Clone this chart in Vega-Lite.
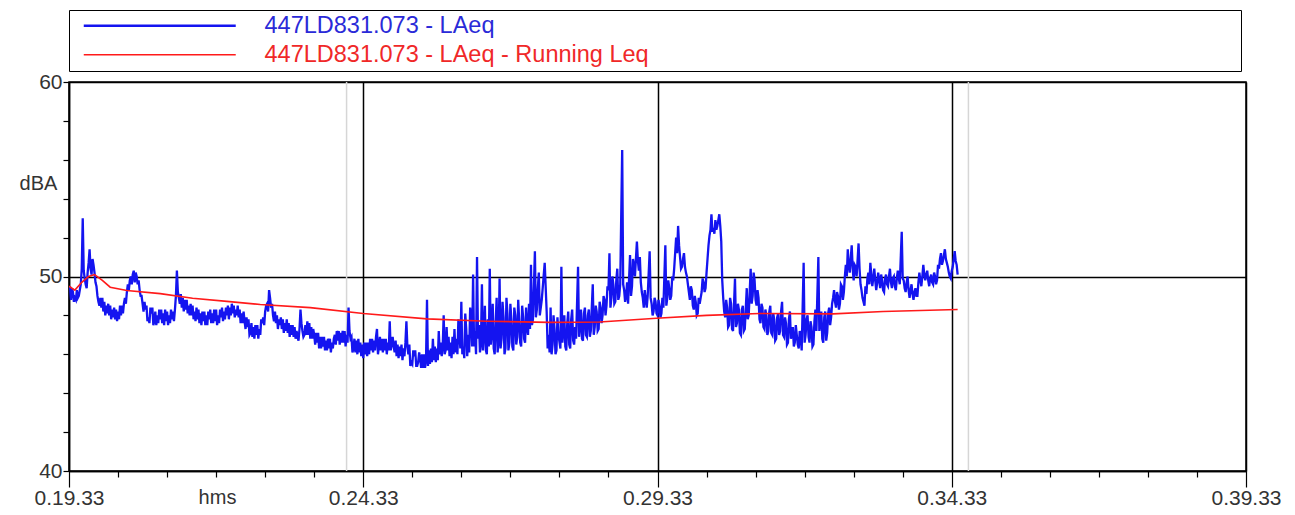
{
"$schema": "https://vega.github.io/schema/vega-lite/v6.json",
"width": 1177,
"height": 389,
"autosize": {"type": "none"},
"padding": {"left": 69, "top": 82, "right": 49, "bottom": 44},
"background": "white",
"config": {
  "view": {"stroke": "black", "strokeWidth": 1.5},
  "font": "Liberation Sans",
  "axis": {"labelFont": "Liberation Sans", "titleFont": "Liberation Sans"},
  "legend": {"labelFont": "Liberation Sans"}
},
"data": {"values": [
{"t":1456,"s":"cursor"},{"t":2090,"s":"cursor"},
{"t":1173,"v":49.3,"s":"LAeq"},{"t":1175,"v":48.8,"s":"LAeq"},{"t":1177,"v":49.2,"s":"LAeq"},{"t":1179,"v":48.9,"s":"LAeq"},{"t":1181,"v":49.3,"s":"LAeq"},{"t":1183,"v":49.0,"s":"LAeq"},{"t":1185,"v":49.6,"s":"LAeq"},{"t":1186,"v":50.4,"s":"LAeq"},{"t":1187,"v":53.0,"s":"LAeq"},{"t":1188,"v":50.3,"s":"LAeq"},{"t":1190,"v":49.6,"s":"LAeq"},{"t":1192,"v":50.2,"s":"LAeq"},{"t":1194,"v":51.4,"s":"LAeq"},{"t":1195,"v":50.4,"s":"LAeq"},{"t":1197,"v":50.9,"s":"LAeq"},{"t":1199,"v":50.2,"s":"LAeq"},{"t":1201,"v":49.5,"s":"LAeq"},{"t":1203,"v":48.7,"s":"LAeq"},{"t":1205,"v":48.9,"s":"LAeq"},{"t":1208,"v":48.2,"s":"LAeq"},{"t":1211,"v":48.5,"s":"LAeq"},{"t":1214,"v":48.0,"s":"LAeq"},{"t":1217,"v":48.3,"s":"LAeq"},{"t":1220,"v":47.8,"s":"LAeq"},{"t":1223,"v":48.2,"s":"LAeq"},{"t":1226,"v":48.0,"s":"LAeq"},{"t":1229,"v":48.6,"s":"LAeq"},{"t":1232,"v":49.2,"s":"LAeq"},{"t":1235,"v":49.8,"s":"LAeq"},{"t":1238,"v":50.1,"s":"LAeq"},{"t":1240,"v":49.7,"s":"LAeq"},{"t":1242,"v":50.0,"s":"LAeq"},{"t":1245,"v":49.3,"s":"LAeq"},{"t":1248,"v":48.6,"s":"LAeq"},{"t":1251,"v":48.3,"s":"LAeq"},{"t":1254,"v":47.9,"s":"LAeq"},{"t":1257,"v":48.1,"s":"LAeq"},{"t":1260,"v":47.7,"s":"LAeq"},{"t":1263,"v":48.0,"s":"LAeq"},{"t":1266,"v":47.8,"s":"LAeq"},{"t":1269,"v":48.1,"s":"LAeq"},{"t":1272,"v":47.7,"s":"LAeq"},{"t":1275,"v":48.0,"s":"LAeq"},{"t":1278,"v":47.8,"s":"LAeq"},{"t":1281,"v":48.3,"s":"LAeq"},{"t":1283,"v":50.3,"s":"LAeq"},{"t":1284,"v":49.2,"s":"LAeq"},{"t":1286,"v":48.6,"s":"LAeq"},{"t":1289,"v":48.9,"s":"LAeq"},{"t":1292,"v":48.3,"s":"LAeq"},{"t":1295,"v":48.5,"s":"LAeq"},{"t":1298,"v":48.0,"s":"LAeq"},{"t":1301,"v":48.2,"s":"LAeq"},{"t":1304,"v":47.8,"s":"LAeq"},{"t":1307,"v":48.1,"s":"LAeq"},{"t":1310,"v":47.7,"s":"LAeq"},{"t":1313,"v":48.0,"s":"LAeq"},{"t":1316,"v":47.8,"s":"LAeq"},{"t":1319,"v":48.1,"s":"LAeq"},{"t":1322,"v":47.7,"s":"LAeq"},{"t":1325,"v":48.0,"s":"LAeq"},{"t":1328,"v":47.9,"s":"LAeq"},{"t":1331,"v":48.2,"s":"LAeq"},{"t":1334,"v":48.0,"s":"LAeq"},{"t":1337,"v":48.4,"s":"LAeq"},{"t":1340,"v":48.1,"s":"LAeq"},{"t":1343,"v":48.3,"s":"LAeq"},{"t":1346,"v":47.9,"s":"LAeq"},{"t":1349,"v":48.1,"s":"LAeq"},{"t":1352,"v":47.7,"s":"LAeq"},{"t":1355,"v":47.4,"s":"LAeq"},{"t":1358,"v":47.1,"s":"LAeq"},{"t":1361,"v":47.4,"s":"LAeq"},{"t":1364,"v":47.0,"s":"LAeq"},{"t":1367,"v":47.3,"s":"LAeq"},{"t":1370,"v":47.6,"s":"LAeq"},{"t":1373,"v":48.2,"s":"LAeq"},{"t":1375,"v":48.6,"s":"LAeq"},{"t":1377,"v":49.3,"s":"LAeq"},{"t":1379,"v":48.4,"s":"LAeq"},{"t":1381,"v":48.0,"s":"LAeq"},{"t":1384,"v":47.6,"s":"LAeq"},{"t":1387,"v":47.8,"s":"LAeq"},{"t":1390,"v":47.3,"s":"LAeq"},{"t":1393,"v":47.6,"s":"LAeq"},{"t":1396,"v":47.1,"s":"LAeq"},{"t":1399,"v":47.5,"s":"LAeq"},{"t":1402,"v":46.9,"s":"LAeq"},{"t":1405,"v":47.2,"s":"LAeq"},{"t":1407,"v":46.7,"s":"LAeq"},{"t":1409,"v":48.3,"s":"LAeq"},{"t":1411,"v":47.2,"s":"LAeq"},{"t":1414,"v":47.5,"s":"LAeq"},{"t":1417,"v":47.0,"s":"LAeq"},
{"t":1174,"v":49.5,"s":"LAeq"},{"t":1176,"v":49.4,"s":"LAeq"},{"t":1178,"v":48.7,"s":"LAeq"},{"t":1180,"v":48.8,"s":"LAeq"},{"t":1182,"v":48.9,"s":"LAeq"},{"t":1184,"v":49.3,"s":"LAeq"},{"t":1189,"v":49.9,"s":"LAeq"},{"t":1191,"v":49.4,"s":"LAeq"},{"t":1193,"v":50.7,"s":"LAeq"},{"t":1196,"v":50.1,"s":"LAeq"},{"t":1198,"v":50.6,"s":"LAeq"},{"t":1200,"v":49.7,"s":"LAeq"},{"t":1202,"v":49.0,"s":"LAeq"},{"t":1204,"v":48.5,"s":"LAeq"},
{"t":1206,"v":48.4,"s":"LAeq"},{"t":1207,"v":48.9,"s":"LAeq"},{"t":1209,"v":48.7,"s":"LAeq"},{"t":1210,"v":48.0,"s":"LAeq"},{"t":1212,"v":48.1,"s":"LAeq"},{"t":1213,"v":48.6,"s":"LAeq"},{"t":1215,"v":48.5,"s":"LAeq"},{"t":1216,"v":47.8,"s":"LAeq"},{"t":1218,"v":47.9,"s":"LAeq"},{"t":1219,"v":48.4,"s":"LAeq"},{"t":1221,"v":48.3,"s":"LAeq"},{"t":1222,"v":47.7,"s":"LAeq"},{"t":1224,"v":47.8,"s":"LAeq"},{"t":1225,"v":48.5,"s":"LAeq"},{"t":1227,"v":48.5,"s":"LAeq"},{"t":1228,"v":48.1,"s":"LAeq"},{"t":1230,"v":48.9,"s":"LAeq"},{"t":1231,"v":48.6,"s":"LAeq"},{"t":1233,"v":49.6,"s":"LAeq"},{"t":1234,"v":49.3,"s":"LAeq"},{"t":1236,"v":50.0,"s":"LAeq"},{"t":1237,"v":49.6,"s":"LAeq"},{"t":1239,"v":50.3,"s":"LAeq"},{"t":1241,"v":50.2,"s":"LAeq"},{"t":1243,"v":49.6,"s":"LAeq"},{"t":1244,"v":49.8,"s":"LAeq"},{"t":1246,"v":49.0,"s":"LAeq"},{"t":1247,"v":49.0,"s":"LAeq"},{"t":1249,"v":48.2,"s":"LAeq"},{"t":1250,"v":48.7,"s":"LAeq"},{"t":1252,"v":48.5,"s":"LAeq"},{"t":1253,"v":47.7,"s":"LAeq"},{"t":1255,"v":47.6,"s":"LAeq"},{"t":1256,"v":48.4,"s":"LAeq"},{"t":1258,"v":48.4,"s":"LAeq"},{"t":1259,"v":47.5,"s":"LAeq"},{"t":1261,"v":48.2,"s":"LAeq"},{"t":1262,"v":47.5,"s":"LAeq"},{"t":1264,"v":47.6,"s":"LAeq"},{"t":1265,"v":48.3,"s":"LAeq"},{"t":1267,"v":48.3,"s":"LAeq"},{"t":1268,"v":47.6,"s":"LAeq"},{"t":1270,"v":47.5,"s":"LAeq"},{"t":1271,"v":48.3,"s":"LAeq"},{"t":1273,"v":48.2,"s":"LAeq"},{"t":1274,"v":47.5,"s":"LAeq"},{"t":1276,"v":47.6,"s":"LAeq"},{"t":1277,"v":48.3,"s":"LAeq"},{"t":1279,"v":48.2,"s":"LAeq"},{"t":1280,"v":47.7,"s":"LAeq"},{"t":1282,"v":49.0,"s":"LAeq"},{"t":1285,"v":48.9,"s":"LAeq"},{"t":1287,"v":49.1,"s":"LAeq"},{"t":1288,"v":48.4,"s":"LAeq"},{"t":1290,"v":48.2,"s":"LAeq"},{"t":1291,"v":48.8,"s":"LAeq"},{"t":1293,"v":48.8,"s":"LAeq"},{"t":1294,"v":48.1,"s":"LAeq"},{"t":1296,"v":48.0,"s":"LAeq"},{"t":1297,"v":48.6,"s":"LAeq"},{"t":1299,"v":48.5,"s":"LAeq"},{"t":1300,"v":47.8,"s":"LAeq"},{"t":1302,"v":47.7,"s":"LAeq"},{"t":1303,"v":48.4,"s":"LAeq"},{"t":1305,"v":48.3,"s":"LAeq"},{"t":1306,"v":47.6,"s":"LAeq"},{"t":1308,"v":47.5,"s":"LAeq"},{"t":1309,"v":48.2,"s":"LAeq"},{"t":1311,"v":48.2,"s":"LAeq"},{"t":1312,"v":47.5,"s":"LAeq"},{"t":1314,"v":47.5,"s":"LAeq"},{"t":1315,"v":48.2,"s":"LAeq"},{"t":1317,"v":48.3,"s":"LAeq"},{"t":1318,"v":47.6,"s":"LAeq"},{"t":1320,"v":47.6,"s":"LAeq"},{"t":1321,"v":48.3,"s":"LAeq"},{"t":1323,"v":48.3,"s":"LAeq"},{"t":1324,"v":47.5,"s":"LAeq"},{"t":1326,"v":47.6,"s":"LAeq"},{"t":1327,"v":48.3,"s":"LAeq"},{"t":1329,"v":48.4,"s":"LAeq"},{"t":1330,"v":47.7,"s":"LAeq"},{"t":1332,"v":47.8,"s":"LAeq"},{"t":1333,"v":48.4,"s":"LAeq"},{"t":1335,"v":48.5,"s":"LAeq"},{"t":1336,"v":47.8,"s":"LAeq"},{"t":1338,"v":48.0,"s":"LAeq"},{"t":1339,"v":48.6,"s":"LAeq"},{"t":1341,"v":48.5,"s":"LAeq"},{"t":1342,"v":47.9,"s":"LAeq"},{"t":1344,"v":48.0,"s":"LAeq"},{"t":1345,"v":48.5,"s":"LAeq"},{"t":1347,"v":48.3,"s":"LAeq"},{"t":1348,"v":47.6,"s":"LAeq"},{"t":1350,"v":47.6,"s":"LAeq"},{"t":1351,"v":48.2,"s":"LAeq"},{"t":1353,"v":47.3,"s":"LAeq"},{"t":1354,"v":47.9,"s":"LAeq"},{"t":1356,"v":47.8,"s":"LAeq"},{"t":1357,"v":47.0,"s":"LAeq"},{"t":1359,"v":47.6,"s":"LAeq"},{"t":1360,"v":46.9,"s":"LAeq"},{"t":1362,"v":46.8,"s":"LAeq"},{"t":1363,"v":47.5,"s":"LAeq"},{"t":1365,"v":47.5,"s":"LAeq"},{"t":1366,"v":46.8,"s":"LAeq"},{"t":1368,"v":47.0,"s":"LAeq"},{"t":1369,"v":47.8,"s":"LAeq"},{"t":1371,"v":47.9,"s":"LAeq"},{"t":1372,"v":47.5,"s":"LAeq"},{"t":1374,"v":48.5,"s":"LAeq"},{"t":1376,"v":48.2,"s":"LAeq"},{"t":1378,"v":48.9,"s":"LAeq"},{"t":1380,"v":48.6,"s":"LAeq"},{"t":1382,"v":47.7,"s":"LAeq"},{"t":1383,"v":48.2,"s":"LAeq"},{"t":1385,"v":48.0,"s":"LAeq"},{"t":1386,"v":47.3,"s":"LAeq"},{"t":1388,"v":47.5,"s":"LAeq"},{"t":1389,"v":47.9,"s":"LAeq"},{"t":1391,"v":47.8,"s":"LAeq"},{"t":1392,"v":47.1,"s":"LAeq"},{"t":1394,"v":47.2,"s":"LAeq"},{"t":1395,"v":47.8,"s":"LAeq"},{"t":1397,"v":47.6,"s":"LAeq"},{"t":1398,"v":46.9,"s":"LAeq"},{"t":1400,"v":47.0,"s":"LAeq"},{"t":1401,"v":47.5,"s":"LAeq"},{"t":1403,"v":47.4,"s":"LAeq"},{"t":1404,"v":46.8,"s":"LAeq"},{"t":1406,"v":46.9,"s":"LAeq"},{"t":1408,"v":47.3,"s":"LAeq"},{"t":1410,"v":47.6,"s":"LAeq"},{"t":1412,"v":46.9,"s":"LAeq"},{"t":1413,"v":47.0,"s":"LAeq"},{"t":1415,"v":47.0,"s":"LAeq"},{"t":1416,"v":47.7,"s":"LAeq"},{"t":1418,"v":47.6,"s":"LAeq"},{"t":1419,"v":46.8,"s":"LAeq"},{"t":1421,"v":46.8,"s":"LAeq"},{"t":1422,"v":47.3,"s":"LAeq"},{"t":1424,"v":46.5,"s":"LAeq"},{"t":1425,"v":47.1,"s":"LAeq"},{"t":1427,"v":47.1,"s":"LAeq"},{"t":1428,"v":46.3,"s":"LAeq"},{"t":1430,"v":46.3,"s":"LAeq"},{"t":1431,"v":46.9,"s":"LAeq"},{"t":1433,"v":46.9,"s":"LAeq"},{"t":1434,"v":46.2,"s":"LAeq"},{"t":1436,"v":46.2,"s":"LAeq"},{"t":1437,"v":46.8,"s":"LAeq"},{"t":1439,"v":46.8,"s":"LAeq"},{"t":1440,"v":46.1,"s":"LAeq"},{"t":1442,"v":46.3,"s":"LAeq"},{"t":1443,"v":46.8,"s":"LAeq"},{"t":1445,"v":46.5,"s":"LAeq"},{"t":1446,"v":47.2,"s":"LAeq"},{"t":1448,"v":47.2,"s":"LAeq"},{"t":1449,"v":46.5,"s":"LAeq"},{"t":1451,"v":46.6,"s":"LAeq"},{"t":1452,"v":47.2,"s":"LAeq"},{"t":1454,"v":47.2,"s":"LAeq"},{"t":1455,"v":46.4,"s":"LAeq"},{"t":1457,"v":46.6,"s":"LAeq"},{"t":1459,"v":47.2,"s":"LAeq"},{"t":1461,"v":46.9,"s":"LAeq"},{"t":1462,"v":46.1,"s":"LAeq"},{"t":1464,"v":46.8,"s":"LAeq"},{"t":1465,"v":46.1,"s":"LAeq"},{"t":1467,"v":46.0,"s":"LAeq"},{"t":1468,"v":46.8,"s":"LAeq"},{"t":1470,"v":46.6,"s":"LAeq"},{"t":1471,"v":45.9,"s":"LAeq"},{"t":1473,"v":45.8,"s":"LAeq"},{"t":1474,"v":46.6,"s":"LAeq"},{"t":1476,"v":46.6,"s":"LAeq"},{"t":1477,"v":45.9,"s":"LAeq"},{"t":1479,"v":46.0,"s":"LAeq"},{"t":1480,"v":46.8,"s":"LAeq"},{"t":1482,"v":46.8,"s":"LAeq"},{"t":1483,"v":46.1,"s":"LAeq"},{"t":1485,"v":46.2,"s":"LAeq"},{"t":1486,"v":46.9,"s":"LAeq"},{"t":1488,"v":46.0,"s":"LAeq"},{"t":1490,"v":46.9,"s":"LAeq"},{"t":1491,"v":46.2,"s":"LAeq"},{"t":1493,"v":46.1,"s":"LAeq"},{"t":1494,"v":46.8,"s":"LAeq"},{"t":1496,"v":46.8,"s":"LAeq"},{"t":1497,"v":46.0,"s":"LAeq"},{"t":1499,"v":46.2,"s":"LAeq"},{"t":1501,"v":46.2,"s":"LAeq"},{"t":1503,"v":46.9,"s":"LAeq"},{"t":1504,"v":46.4,"s":"LAeq"},{"t":1506,"v":46.7,"s":"LAeq"},{"t":1507,"v":45.9,"s":"LAeq"},{"t":1509,"v":45.8,"s":"LAeq"},{"t":1510,"v":46.4,"s":"LAeq"},{"t":1512,"v":46.5,"s":"LAeq"},{"t":1513,"v":45.7,"s":"LAeq"},{"t":1515,"v":45.9,"s":"LAeq"},{"t":1516,"v":46.6,"s":"LAeq"},{"t":1518,"v":46.4,"s":"LAeq"},{"t":1520,"v":46.5,"s":"LAeq"},{"t":1521,"v":45.4,"s":"LAeq"},{"t":1523,"v":45.5,"s":"LAeq"},{"t":1524,"v":46.2,"s":"LAeq"},{"t":1526,"v":46.2,"s":"LAeq"},{"t":1527,"v":45.4,"s":"LAeq"},{"t":1529,"v":45.6,"s":"LAeq"},{"t":1530,"v":46.1,"s":"LAeq"},{"t":1532,"v":45.3,"s":"LAeq"},{"t":1533,"v":46.0,"s":"LAeq"},{"t":1535,"v":46.0,"s":"LAeq"},{"t":1536,"v":45.3,"s":"LAeq"},{"t":1539,"v":45.4,"s":"LAeq"},{"t":1542,"v":46.3,"s":"LAeq"},{"t":1545,"v":45.7,"s":"LAeq"},{"t":1548,"v":46.3,"s":"LAeq"},{"t":1551,"v":46.0,"s":"LAeq"},{"t":1554,"v":46.4,"s":"LAeq"},{"t":1556,"v":46.0,"s":"LAeq"},{"t":1559,"v":46.2,"s":"LAeq"},{"t":1562,"v":46.6,"s":"LAeq"},{"t":1565,"v":46.0,"s":"LAeq"},{"t":1568,"v":46.8,"s":"LAeq"},{"t":1572,"v":46.3,"s":"LAeq"},{"t":1576,"v":45.8,"s":"LAeq"},{"t":1580,"v":47.0,"s":"LAeq"},{"t":1584,"v":46.4,"s":"LAeq"},{"t":1588,"v":46.0,"s":"LAeq"},{"t":1592,"v":46.1,"s":"LAeq"},{"t":1601,"v":46.4,"s":"LAeq"},{"t":1611,"v":46.7,"s":"LAeq"},
{"t":1420,"v":47.4,"s":"LAeq"},{"t":1423,"v":47.0,"s":"LAeq"},{"t":1426,"v":46.6,"s":"LAeq"},{"t":1429,"v":46.9,"s":"LAeq"},{"t":1432,"v":46.4,"s":"LAeq"},{"t":1435,"v":46.7,"s":"LAeq"},{"t":1438,"v":46.3,"s":"LAeq"},{"t":1441,"v":46.6,"s":"LAeq"},{"t":1444,"v":47.0,"s":"LAeq"},{"t":1447,"v":46.7,"s":"LAeq"},{"t":1450,"v":47.1,"s":"LAeq"},{"t":1453,"v":46.6,"s":"LAeq"},{"t":1456,"v":47.0,"s":"LAeq"},{"t":1458,"v":48.4,"s":"LAeq"},{"t":1460,"v":46.8,"s":"LAeq"},{"t":1463,"v":46.3,"s":"LAeq"},{"t":1466,"v":46.7,"s":"LAeq"},{"t":1469,"v":46.1,"s":"LAeq"},{"t":1472,"v":46.5,"s":"LAeq"},{"t":1475,"v":46.0,"s":"LAeq"},{"t":1478,"v":46.6,"s":"LAeq"},{"t":1481,"v":46.2,"s":"LAeq"},{"t":1484,"v":46.7,"s":"LAeq"},{"t":1487,"v":47.3,"s":"LAeq"},{"t":1489,"v":46.4,"s":"LAeq"},{"t":1492,"v":46.8,"s":"LAeq"},{"t":1495,"v":46.2,"s":"LAeq"},{"t":1498,"v":46.6,"s":"LAeq"},{"t":1500,"v":47.7,"s":"LAeq"},{"t":1502,"v":46.5,"s":"LAeq"},{"t":1505,"v":46.1,"s":"LAeq"},{"t":1508,"v":46.5,"s":"LAeq"},{"t":1511,"v":45.9,"s":"LAeq"},{"t":1514,"v":46.3,"s":"LAeq"},{"t":1517,"v":47.7,"s":"LAeq"},{"t":1519,"v":46.0,"s":"LAeq"},{"t":1522,"v":45.6,"s":"LAeq"},{"t":1525,"v":45.9,"s":"LAeq"},{"t":1528,"v":45.4,"s":"LAeq"},{"t":1531,"v":45.8,"s":"LAeq"},{"t":1534,"v":45.3,"s":"LAeq"},{"t":1537,"v":45.7,"s":"LAeq"},{"t":1538,"v":48.8,"s":"LAeq"},{"t":1540,"v":46.2,"s":"LAeq"},{"t":1541,"v":45.5,"s":"LAeq"},{"t":1543,"v":45.6,"s":"LAeq"},{"t":1544,"v":46.8,"s":"LAeq"},{"t":1546,"v":46.4,"s":"LAeq"},{"t":1547,"v":45.6,"s":"LAeq"},{"t":1549,"v":45.7,"s":"LAeq"},{"t":1550,"v":47.2,"s":"LAeq"},{"t":1552,"v":46.6,"s":"LAeq"},{"t":1553,"v":45.9,"s":"LAeq"},{"t":1555,"v":48.0,"s":"LAeq"},{"t":1557,"v":46.2,"s":"LAeq"},{"t":1558,"v":47.4,"s":"LAeq"},{"t":1560,"v":46.9,"s":"LAeq"},{"t":1561,"v":45.9,"s":"LAeq"},{"t":1563,"v":45.8,"s":"LAeq"},{"t":1564,"v":46.9,"s":"LAeq"},{"t":1566,"v":47.3,"s":"LAeq"},{"t":1567,"v":46.1,"s":"LAeq"},{"t":1569,"v":46.0,"s":"LAeq"},{"t":1570,"v":47.8,"s":"LAeq"},{"t":1571,"v":47.0,"s":"LAeq"},{"t":1573,"v":48.7,"s":"LAeq"},{"t":1574,"v":46.0,"s":"LAeq"},{"t":1575,"v":46.4,"s":"LAeq"},{"t":1577,"v":48.1,"s":"LAeq"},{"t":1578,"v":47.3,"s":"LAeq"},{"t":1579,"v":45.9,"s":"LAeq"},{"t":1581,"v":46.1,"s":"LAeq"},{"t":1582,"v":48.4,"s":"LAeq"},{"t":1583,"v":47.8,"s":"LAeq"},{"t":1585,"v":50.1,"s":"LAeq"},{"t":1586,"v":46.4,"s":"LAeq"},{"t":1587,"v":47.2,"s":"LAeq"},{"t":1589,"v":51.0,"s":"LAeq"},{"t":1590,"v":46.8,"s":"LAeq"},{"t":1591,"v":47.5,"s":"LAeq"},{"t":1593,"v":46.6,"s":"LAeq"},{"t":1594,"v":49.6,"s":"LAeq"},{"t":1595,"v":46.2,"s":"LAeq"},{"t":1596,"v":47.0,"s":"LAeq"},{"t":1597,"v":48.5,"s":"LAeq"},{"t":1598,"v":46.2,"s":"LAeq"},{"t":1599,"v":46.0,"s":"LAeq"},{"t":1600,"v":47.8,"s":"LAeq"},{"t":1602,"v":50.4,"s":"LAeq"},{"t":1603,"v":46.5,"s":"LAeq"},{"t":1604,"v":47.1,"s":"LAeq"},{"t":1605,"v":48.6,"s":"LAeq"},{"t":1606,"v":46.3,"s":"LAeq"},{"t":1607,"v":46.0,"s":"LAeq"},{"t":1608,"v":47.6,"s":"LAeq"},{"t":1609,"v":48.9,"s":"LAeq"},{"t":1610,"v":46.1,"s":"LAeq"},{"t":1612,"v":49.9,"s":"LAeq"},{"t":1613,"v":46.3,"s":"LAeq"},{"t":1614,"v":46.8,"s":"LAeq"},{"t":1615,"v":48.7,"s":"LAeq"},{"t":1616,"v":47.9,"s":"LAeq"},{"t":1617,"v":46.0,"s":"LAeq"},{"t":1618,"v":46.3,"s":"LAeq"},{"t":1619,"v":48.9,"s":"LAeq"},{"t":1620,"v":48.1,"s":"LAeq"},{"t":1621,"v":46.2,"s":"LAeq"},{"t":1622,"v":46.6,"s":"LAeq"},{"t":1623,"v":48.6,"s":"LAeq"},{"t":1624,"v":47.8,"s":"LAeq"},{"t":1625,"v":46.4,"s":"LAeq"},{"t":1626,"v":46.2,"s":"LAeq"},{"t":1627,"v":48.4,"s":"LAeq"},{"t":1628,"v":48.0,"s":"LAeq"},{"t":1629,"v":46.5,"s":"LAeq"},{"t":1630,"v":46.9,"s":"LAeq"},{"t":1631,"v":48.8,"s":"LAeq"},{"t":1632,"v":47.7,"s":"LAeq"},{"t":1633,"v":46.6,"s":"LAeq"},{"t":1634,"v":46.4,"s":"LAeq"},{"t":1635,"v":48.5,"s":"LAeq"},{"t":1636,"v":47.9,"s":"LAeq"},{"t":1637,"v":46.8,"s":"LAeq"},{"t":1638,"v":46.6,"s":"LAeq"},{"t":1639,"v":48.4,"s":"LAeq"},{"t":1640,"v":47.4,"s":"LAeq"},{"t":1641,"v":47.0,"s":"LAeq"},{"t":1642,"v":48.6,"s":"LAeq"},{"t":1643,"v":47.3,"s":"LAeq"},{"t":1644,"v":50.6,"s":"LAeq"},{"t":1645,"v":47.5,"s":"LAeq"},{"t":1646,"v":47.8,"s":"LAeq"},{"t":1647,"v":49.5,"s":"LAeq"},{"t":1648,"v":51.3,"s":"LAeq"},{"t":1649,"v":47.9,"s":"LAeq"},{"t":1650,"v":48.3,"s":"LAeq"},{"t":1651,"v":49.4,"s":"LAeq"},{"t":1652,"v":50.2,"s":"LAeq"},{"t":1653,"v":48.0,"s":"LAeq"},
{"t":1655,"v":48.8,"s":"LAeq"},{"t":1658,"v":50.7,"s":"LAeq"},{"t":1660,"v":48.2,"s":"LAeq"},{"t":1661,"v":46.3,"s":"LAeq"},{"t":1662,"v":47.0,"s":"LAeq"},{"t":1663,"v":46.1,"s":"LAeq"},{"t":1664,"v":48.4,"s":"LAeq"},{"t":1665,"v":46.0,"s":"LAeq"},{"t":1666,"v":46.5,"s":"LAeq"},{"t":1667,"v":48.0,"s":"LAeq"},{"t":1668,"v":47.3,"s":"LAeq"},{"t":1669,"v":46.0,"s":"LAeq"},{"t":1670,"v":46.2,"s":"LAeq"},{"t":1671,"v":47.9,"s":"LAeq"},{"t":1672,"v":47.0,"s":"LAeq"},{"t":1674,"v":46.3,"s":"LAeq"},{"t":1675,"v":50.5,"s":"LAeq"},{"t":1676,"v":46.6,"s":"LAeq"},{"t":1677,"v":47.2,"s":"LAeq"},{"t":1678,"v":48.0,"s":"LAeq"},{"t":1679,"v":46.4,"s":"LAeq"},{"t":1680,"v":46.2,"s":"LAeq"},{"t":1681,"v":47.6,"s":"LAeq"},{"t":1682,"v":48.2,"s":"LAeq"},{"t":1683,"v":46.5,"s":"LAeq"},{"t":1684,"v":46.3,"s":"LAeq"},{"t":1685,"v":47.8,"s":"LAeq"},{"t":1686,"v":48.3,"s":"LAeq"},{"t":1687,"v":46.7,"s":"LAeq"},{"t":1688,"v":46.5,"s":"LAeq"},{"t":1689,"v":47.4,"s":"LAeq"},{"t":1690,"v":46.8,"s":"LAeq"},{"t":1692,"v":50.5,"s":"LAeq"},{"t":1693,"v":46.9,"s":"LAeq"},{"t":1694,"v":47.5,"s":"LAeq"},{"t":1695,"v":48.3,"s":"LAeq"},{"t":1696,"v":46.8,"s":"LAeq"},{"t":1697,"v":46.7,"s":"LAeq"},{"t":1698,"v":48.1,"s":"LAeq"},{"t":1699,"v":48.4,"s":"LAeq"},{"t":1700,"v":47.0,"s":"LAeq"},{"t":1701,"v":46.9,"s":"LAeq"},{"t":1702,"v":48.0,"s":"LAeq"},{"t":1703,"v":48.3,"s":"LAeq"},{"t":1704,"v":46.9,"s":"LAeq"},{"t":1705,"v":47.2,"s":"LAeq"},{"t":1707,"v":49.6,"s":"LAeq"},{"t":1708,"v":47.0,"s":"LAeq"},{"t":1709,"v":47.4,"s":"LAeq"},{"t":1710,"v":48.5,"s":"LAeq"},{"t":1711,"v":48.2,"s":"LAeq"},{"t":1712,"v":47.2,"s":"LAeq"},{"t":1713,"v":47.3,"s":"LAeq"},{"t":1714,"v":48.7,"s":"LAeq"},{"t":1715,"v":48.4,"s":"LAeq"},{"t":1716,"v":47.6,"s":"LAeq"},{"t":1717,"v":48.0,"s":"LAeq"},{"t":1718,"v":49.0,"s":"LAeq"},{"t":1719,"v":48.8,"s":"LAeq"},{"t":1720,"v":48.0,"s":"LAeq"},{"t":1721,"v":48.5,"s":"LAeq"},{"t":1722,"v":49.5,"s":"LAeq"},{"t":1723,"v":49.3,"s":"LAeq"},{"t":1724,"v":51.2,"s":"LAeq"},{"t":1725,"v":48.4,"s":"LAeq"},{"t":1726,"v":48.9,"s":"LAeq"},{"t":1727,"v":50.0,"s":"LAeq"},{"t":1728,"v":49.6,"s":"LAeq"},{"t":1729,"v":48.6,"s":"LAeq"},{"t":1730,"v":48.7,"s":"LAeq"},{"t":1731,"v":49.8,"s":"LAeq"},{"t":1732,"v":50.4,"s":"LAeq"},{"t":1733,"v":48.8,"s":"LAeq"},{"t":1734,"v":49.0,"s":"LAeq"},{"t":1735,"v":49.6,"s":"LAeq"},{"t":1737,"v":56.5,"s":"LAeq"},{"t":1738,"v":49.6,"s":"LAeq"},{"t":1739,"v":49.3,"s":"LAeq"},{"t":1740,"v":48.7,"s":"LAeq"},{"t":1741,"v":49.0,"s":"LAeq"},{"t":1742,"v":49.7,"s":"LAeq"},{"t":1743,"v":48.6,"s":"LAeq"},{"t":1745,"v":51.1,"s":"LAeq"},{"t":1746,"v":49.0,"s":"LAeq"},{"t":1747,"v":49.5,"s":"LAeq"},{"t":1748,"v":50.9,"s":"LAeq"},{"t":1749,"v":50.6,"s":"LAeq"},{"t":1750,"v":50.0,"s":"LAeq"},{"t":1752,"v":51.8,"s":"LAeq"},{"t":1753,"v":50.8,"s":"LAeq"},{"t":1754,"v":50.3,"s":"LAeq"},{"t":1755,"v":51.0,"s":"LAeq"},{"t":1756,"v":49.7,"s":"LAeq"},{"t":1757,"v":49.2,"s":"LAeq"},{"t":1758,"v":48.9,"s":"LAeq"},{"t":1759,"v":48.4,"s":"LAeq"},{"t":1760,"v":49.3,"s":"LAeq"},{"t":1761,"v":48.8,"s":"LAeq"},{"t":1762,"v":48.4,"s":"LAeq"},{"t":1763,"v":49.0,"s":"LAeq"},{"t":1765,"v":51.3,"s":"LAeq"},{"t":1766,"v":48.9,"s":"LAeq"},{"t":1767,"v":48.6,"s":"LAeq"},{"t":1768,"v":48.0,"s":"LAeq"},{"t":1769,"v":48.2,"s":"LAeq"},{"t":1770,"v":48.9,"s":"LAeq"},{"t":1771,"v":48.7,"s":"LAeq"},{"t":1772,"v":48.1,"s":"LAeq"},{"t":1773,"v":48.0,"s":"LAeq"},{"t":1774,"v":48.8,"s":"LAeq"},{"t":1775,"v":48.5,"s":"LAeq"},{"t":1776,"v":47.9,"s":"LAeq"},{"t":1777,"v":48.1,"s":"LAeq"},{"t":1778,"v":48.9,"s":"LAeq"},{"t":1779,"v":48.4,"s":"LAeq"},{"t":1781,"v":51.6,"s":"LAeq"},{"t":1782,"v":48.5,"s":"LAeq"},{"t":1783,"v":48.9,"s":"LAeq"},{"t":1784,"v":49.8,"s":"LAeq"},{"t":1785,"v":49.4,"s":"LAeq"},{"t":1786,"v":48.8,"s":"LAeq"},{"t":1787,"v":49.0,"s":"LAeq"},{"t":1788,"v":50.0,"s":"LAeq"},{"t":1789,"v":49.8,"s":"LAeq"},{"t":1790,"v":50.4,"s":"LAeq"},{"t":1792,"v":52.0,"s":"LAeq"},{"t":1793,"v":51.2,"s":"LAeq"},{"t":1794,"v":52.6,"s":"LAeq"},{"t":1795,"v":51.6,"s":"LAeq"},{"t":1796,"v":51.0,"s":"LAeq"},{"t":1797,"v":50.4,"s":"LAeq"},{"t":1798,"v":50.5,"s":"LAeq"},{"t":1799,"v":50.9,"s":"LAeq"},{"t":1800,"v":51.2,"s":"LAeq"},{"t":1801,"v":50.5,"s":"LAeq"},{"t":1802,"v":50.2,"s":"LAeq"},{"t":1803,"v":50.0,"s":"LAeq"},{"t":1804,"v":49.6,"s":"LAeq"},{"t":1805,"v":49.2,"s":"LAeq"},{"t":1806,"v":48.8,"s":"LAeq"},{"t":1807,"v":49.5,"s":"LAeq"},{"t":1808,"v":49.3,"s":"LAeq"},{"t":1809,"v":48.5,"s":"LAeq"},{"t":1810,"v":48.3,"s":"LAeq"},{"t":1811,"v":49.0,"s":"LAeq"},{"t":1812,"v":48.7,"s":"LAeq"},{"t":1813,"v":48.0,"s":"LAeq"},{"t":1814,"v":48.1,"s":"LAeq"},{"t":1815,"v":48.9,"s":"LAeq"},{"t":1816,"v":48.6,"s":"LAeq"},{"t":1817,"v":48.9,"s":"LAeq"},{"t":1818,"v":49.2,"s":"LAeq"},{"t":1819,"v":49.9,"s":"LAeq"},{"t":1820,"v":49.7,"s":"LAeq"},{"t":1821,"v":49.2,"s":"LAeq"},{"t":1822,"v":49.4,"s":"LAeq"},{"t":1823,"v":50.2,"s":"LAeq"},{"t":1824,"v":50.9,"s":"LAeq"},{"t":1825,"v":51.6,"s":"LAeq"},{"t":1826,"v":52.1,"s":"LAeq"},{"t":1827,"v":52.4,"s":"LAeq"},{"t":1828,"v":53.2,"s":"LAeq"},{"t":1829,"v":52.3,"s":"LAeq"},{"t":1830,"v":52.5,"s":"LAeq"},{"t":1831,"v":52.2,"s":"LAeq"},{"t":1832,"v":52.9,"s":"LAeq"},{"t":1833,"v":52.4,"s":"LAeq"},{"t":1834,"v":52.6,"s":"LAeq"},{"t":1835,"v":52.9,"s":"LAeq"},{"t":1836,"v":53.2,"s":"LAeq"},{"t":1837,"v":52.6,"s":"LAeq"},{"t":1838,"v":51.8,"s":"LAeq"},{"t":1839,"v":49.8,"s":"LAeq"},{"t":1840,"v":48.9,"s":"LAeq"},{"t":1841,"v":48.2,"s":"LAeq"},{"t":1842,"v":47.9,"s":"LAeq"},{"t":1843,"v":48.8,"s":"LAeq"},{"t":1844,"v":48.4,"s":"LAeq"},
{"t":1845,"v":47.4,"s":"LAeq"},{"t":1846,"v":47.5,"s":"LAeq"},{"t":1847,"v":48.9,"s":"LAeq"},{"t":1848,"v":48.6,"s":"LAeq"},{"t":1849,"v":47.3,"s":"LAeq"},{"t":1850,"v":47.2,"s":"LAeq"},{"t":1852,"v":49.9,"s":"LAeq"},{"t":1853,"v":47.4,"s":"LAeq"},{"t":1854,"v":47.6,"s":"LAeq"},{"t":1855,"v":48.6,"s":"LAeq"},{"t":1856,"v":48.3,"s":"LAeq"},{"t":1857,"v":47.1,"s":"LAeq"},{"t":1858,"v":47.0,"s":"LAeq"},{"t":1859,"v":48.3,"s":"LAeq"},{"t":1860,"v":48.5,"s":"LAeq"},{"t":1861,"v":47.2,"s":"LAeq"},{"t":1862,"v":47.3,"s":"LAeq"},{"t":1864,"v":49.4,"s":"LAeq"},{"t":1865,"v":47.8,"s":"LAeq"},{"t":1866,"v":48.0,"s":"LAeq"},{"t":1868,"v":50.4,"s":"LAeq"},{"t":1869,"v":48.6,"s":"LAeq"},{"t":1870,"v":49.0,"s":"LAeq"},{"t":1871,"v":50.2,"s":"LAeq"},{"t":1872,"v":49.8,"s":"LAeq"},{"t":1873,"v":48.8,"s":"LAeq"},{"t":1874,"v":48.5,"s":"LAeq"},{"t":1875,"v":49.3,"s":"LAeq"},{"t":1876,"v":48.9,"s":"LAeq"},{"t":1877,"v":47.8,"s":"LAeq"},{"t":1878,"v":47.6,"s":"LAeq"},{"t":1879,"v":48.6,"s":"LAeq"},{"t":1880,"v":48.4,"s":"LAeq"},{"t":1881,"v":47.4,"s":"LAeq"},{"t":1882,"v":47.3,"s":"LAeq"},{"t":1883,"v":48.3,"s":"LAeq"},{"t":1884,"v":48.0,"s":"LAeq"},{"t":1885,"v":47.0,"s":"LAeq"},{"t":1886,"v":47.2,"s":"LAeq"},{"t":1887,"v":48.2,"s":"LAeq"},{"t":1888,"v":48.5,"s":"LAeq"},{"t":1889,"v":47.1,"s":"LAeq"},{"t":1890,"v":47.0,"s":"LAeq"},{"t":1891,"v":48.1,"s":"LAeq"},{"t":1892,"v":47.8,"s":"LAeq"},{"t":1893,"v":46.7,"s":"LAeq"},{"t":1894,"v":46.8,"s":"LAeq"},{"t":1895,"v":47.9,"s":"LAeq"},{"t":1896,"v":48.1,"s":"LAeq"},{"t":1897,"v":47.0,"s":"LAeq"},{"t":1898,"v":47.2,"s":"LAeq"},{"t":1899,"v":48.2,"s":"LAeq"},{"t":1900,"v":48.7,"s":"LAeq"},{"t":1901,"v":47.0,"s":"LAeq"},{"t":1902,"v":46.9,"s":"LAeq"},{"t":1903,"v":47.9,"s":"LAeq"},{"t":1904,"v":47.6,"s":"LAeq"},{"t":1905,"v":46.5,"s":"LAeq"},{"t":1906,"v":46.6,"s":"LAeq"},{"t":1907,"v":47.8,"s":"LAeq"},{"t":1908,"v":48.2,"s":"LAeq"},{"t":1909,"v":46.8,"s":"LAeq"},{"t":1910,"v":47.0,"s":"LAeq"},{"t":1911,"v":47.4,"s":"LAeq"},{"t":1912,"v":46.4,"s":"LAeq"},{"t":1913,"v":46.6,"s":"LAeq"},{"t":1914,"v":47.5,"s":"LAeq"},{"t":1915,"v":47.0,"s":"LAeq"},{"t":1916,"v":46.5,"s":"LAeq"},{"t":1917,"v":46.3,"s":"LAeq"},{"t":1918,"v":47.2,"s":"LAeq"},{"t":1919,"v":46.9,"s":"LAeq"},{"t":1920,"v":46.2,"s":"LAeq"},{"t":1922,"v":50.7,"s":"LAeq"},{"t":1923,"v":46.6,"s":"LAeq"},{"t":1924,"v":47.0,"s":"LAeq"},{"t":1925,"v":47.8,"s":"LAeq"},{"t":1926,"v":48.0,"s":"LAeq"},{"t":1927,"v":46.9,"s":"LAeq"},{"t":1928,"v":46.6,"s":"LAeq"},{"t":1929,"v":47.7,"s":"LAeq"},{"t":1930,"v":47.4,"s":"LAeq"},{"t":1931,"v":46.4,"s":"LAeq"},{"t":1932,"v":46.5,"s":"LAeq"},{"t":1933,"v":47.7,"s":"LAeq"},{"t":1934,"v":48.3,"s":"LAeq"},{"t":1935,"v":47.2,"s":"LAeq"},{"t":1937,"v":51.0,"s":"LAeq"},{"t":1938,"v":47.2,"s":"LAeq"},{"t":1939,"v":47.6,"s":"LAeq"},{"t":1940,"v":48.2,"s":"LAeq"},{"t":1941,"v":46.8,"s":"LAeq"},{"t":1942,"v":46.6,"s":"LAeq"},{"t":1943,"v":47.9,"s":"LAeq"},{"t":1944,"v":48.2,"s":"LAeq"},{"t":1945,"v":46.7,"s":"LAeq"},{"t":1946,"v":47.1,"s":"LAeq"},{"t":1947,"v":48.1,"s":"LAeq"},{"t":1948,"v":48.4,"s":"LAeq"},{"t":1949,"v":47.5,"s":"LAeq"},{"t":1950,"v":47.9,"s":"LAeq"},{"t":1951,"v":48.6,"s":"LAeq"},{"t":1952,"v":48.9,"s":"LAeq"},{"t":1953,"v":49.3,"s":"LAeq"},{"t":1954,"v":48.7,"s":"LAeq"},{"t":1955,"v":48.4,"s":"LAeq"},{"t":1956,"v":49.2,"s":"LAeq"},{"t":1957,"v":49.0,"s":"LAeq"},{"t":1958,"v":48.3,"s":"LAeq"},{"t":1959,"v":48.6,"s":"LAeq"},{"t":1960,"v":49.6,"s":"LAeq"},{"t":1961,"v":49.5,"s":"LAeq"},{"t":1962,"v":48.8,"s":"LAeq"},{"t":1963,"v":49.2,"s":"LAeq"},{"t":1964,"v":50.0,"s":"LAeq"},{"t":1965,"v":50.6,"s":"LAeq"},{"t":1966,"v":50.0,"s":"LAeq"},{"t":1967,"v":51.4,"s":"LAeq"},{"t":1968,"v":50.6,"s":"LAeq"},{"t":1969,"v":50.2,"s":"LAeq"},{"t":1970,"v":50.9,"s":"LAeq"},{"t":1971,"v":51.6,"s":"LAeq"},{"t":1972,"v":50.4,"s":"LAeq"},{"t":1973,"v":49.8,"s":"LAeq"},{"t":1974,"v":50.6,"s":"LAeq"},{"t":1975,"v":50.5,"s":"LAeq"},{"t":1976,"v":50.0,"s":"LAeq"},{"t":1978,"v":51.7,"s":"LAeq"},{"t":1979,"v":50.4,"s":"LAeq"},{"t":1980,"v":49.6,"s":"LAeq"},{"t":1981,"v":49.3,"s":"LAeq"},{"t":1982,"v":48.9,"s":"LAeq"},{"t":1983,"v":48.7,"s":"LAeq"},{"t":1984,"v":48.5,"s":"LAeq"},{"t":1985,"v":49.5,"s":"LAeq"},{"t":1986,"v":49.1,"s":"LAeq"},{"t":1987,"v":49.9,"s":"LAeq"},{"t":1988,"v":50.2,"s":"LAeq"},{"t":1989,"v":49.6,"s":"LAeq"},{"t":1990,"v":50.7,"s":"LAeq"},{"t":1991,"v":50.1,"s":"LAeq"},{"t":1992,"v":49.5,"s":"LAeq"},{"t":1993,"v":49.9,"s":"LAeq"},{"t":1994,"v":50.4,"s":"LAeq"},{"t":1995,"v":49.8,"s":"LAeq"},{"t":1996,"v":49.3,"s":"LAeq"},{"t":1997,"v":49.7,"s":"LAeq"},{"t":1998,"v":50.2,"s":"LAeq"},{"t":1999,"v":49.8,"s":"LAeq"},{"t":2000,"v":49.4,"s":"LAeq"},{"t":2001,"v":50.1,"s":"LAeq"},{"t":2002,"v":49.8,"s":"LAeq"},{"t":2003,"v":49.3,"s":"LAeq"},{"t":2004,"v":49.2,"s":"LAeq"},{"t":2005,"v":49.9,"s":"LAeq"},{"t":2006,"v":50.1,"s":"LAeq"},{"t":2007,"v":49.6,"s":"LAeq"},{"t":2008,"v":49.5,"s":"LAeq"},{"t":2009,"v":50.0,"s":"LAeq"},{"t":2010,"v":50.4,"s":"LAeq"},{"t":2011,"v":49.7,"s":"LAeq"},{"t":2012,"v":49.4,"s":"LAeq"},{"t":2013,"v":49.9,"s":"LAeq"},{"t":2014,"v":50.0,"s":"LAeq"},{"t":2015,"v":49.5,"s":"LAeq"},{"t":2016,"v":49.3,"s":"LAeq"},{"t":2017,"v":49.9,"s":"LAeq"},{"t":2018,"v":50.3,"s":"LAeq"},{"t":2019,"v":49.9,"s":"LAeq"},{"t":2020,"v":49.6,"s":"LAeq"},{"t":2022,"v":52.3,"s":"LAeq"},{"t":2023,"v":49.9,"s":"LAeq"},{"t":2024,"v":49.8,"s":"LAeq"},{"t":2025,"v":49.4,"s":"LAeq"},{"t":2026,"v":49.2,"s":"LAeq"},{"t":2027,"v":49.7,"s":"LAeq"},{"t":2028,"v":50.0,"s":"LAeq"},{"t":2029,"v":49.3,"s":"LAeq"},{"t":2030,"v":48.9,"s":"LAeq"},{"t":2031,"v":49.3,"s":"LAeq"},{"t":2032,"v":49.6,"s":"LAeq"},{"t":2033,"v":49.1,"s":"LAeq"},{"t":2034,"v":48.8,"s":"LAeq"},{"t":2035,"v":49.2,"s":"LAeq"},{"t":2036,"v":49.4,"s":"LAeq"},{"t":2037,"v":49.0,"s":"LAeq"},{"t":2038,"v":49.0,"s":"LAeq"},{"t":2039,"v":49.7,"s":"LAeq"},{"t":2040,"v":50.2,"s":"LAeq"},{"t":2041,"v":49.8,"s":"LAeq"},{"t":2042,"v":49.5,"s":"LAeq"},{"t":2043,"v":50.0,"s":"LAeq"},{"t":2044,"v":50.6,"s":"LAeq"},{"t":2045,"v":50.1,"s":"LAeq"},{"t":2046,"v":49.8,"s":"LAeq"},{"t":2047,"v":50.1,"s":"LAeq"},{"t":2048,"v":50.3,"s":"LAeq"},{"t":2049,"v":49.8,"s":"LAeq"},{"t":2050,"v":49.5,"s":"LAeq"},{"t":2051,"v":49.9,"s":"LAeq"},{"t":2052,"v":50.1,"s":"LAeq"},{"t":2053,"v":49.7,"s":"LAeq"},{"t":2054,"v":49.6,"s":"LAeq"},{"t":2055,"v":50.2,"s":"LAeq"},{"t":2056,"v":50.0,"s":"LAeq"},{"t":2057,"v":49.6,"s":"LAeq"},{"t":2058,"v":49.8,"s":"LAeq"},{"t":2059,"v":50.6,"s":"LAeq"},{"t":2060,"v":50.4,"s":"LAeq"},{"t":2061,"v":50.9,"s":"LAeq"},{"t":2062,"v":51.2,"s":"LAeq"},{"t":2063,"v":50.6,"s":"LAeq"},{"t":2064,"v":50.8,"s":"LAeq"},{"t":2065,"v":51.1,"s":"LAeq"},{"t":2066,"v":51.4,"s":"LAeq"},{"t":2067,"v":50.9,"s":"LAeq"},{"t":2068,"v":50.7,"s":"LAeq"},{"t":2069,"v":50.5,"s":"LAeq"},{"t":2070,"v":50.2,"s":"LAeq"},{"t":2071,"v":50.0,"s":"LAeq"},{"t":2072,"v":49.9,"s":"LAeq"},{"t":2073,"v":50.3,"s":"LAeq"},{"t":2074,"v":50.5,"s":"LAeq"},{"t":2075,"v":50.9,"s":"LAeq"},{"t":2076,"v":51.3,"s":"LAeq"},{"t":2077,"v":50.8,"s":"LAeq"},{"t":2078,"v":50.6,"s":"LAeq"},{"t":2079,"v":50.1,"s":"LAeq"},
{"t":1173,"v":49.5,"s":"Running"},{"t":1179,"v":49.3,"s":"Running"},{"t":1186,"v":49.7,"s":"Running"},{"t":1193,"v":50.0,"s":"Running"},{"t":1199,"v":50.1,"s":"Running"},{"t":1207,"v":49.8,"s":"Running"},{"t":1215,"v":49.45,"s":"Running"},{"t":1232,"v":49.28,"s":"Running"},{"t":1266,"v":49.12,"s":"Running"},{"t":1299,"v":48.88,"s":"Running"},{"t":1334,"v":48.72,"s":"Running"},{"t":1368,"v":48.56,"s":"Running"},{"t":1419,"v":48.4,"s":"Running"},{"t":1473,"v":48.1,"s":"Running"},{"t":1538,"v":47.82,"s":"Running"},{"t":1599,"v":47.7,"s":"Running"},{"t":1663,"v":47.64,"s":"Running"},{"t":1714,"v":47.66,"s":"Running"},{"t":1772,"v":47.85,"s":"Running"},{"t":1823,"v":48.0,"s":"Running"},{"t":1877,"v":48.1,"s":"Running"},{"t":1952,"v":48.08,"s":"Running"},{"t":2003,"v":48.2,"s":"Running"},{"t":2079,"v":48.3,"s":"Running"}
]},
"encoding": {
  "x": {"field": "t", "type": "quantitative",
    "scale": {"domain": [1173, 2373], "nice": false, "zero": false},
    "axis": {
      "values": [1173,1223,1273,1323,1373,1423,1473,1523,1573,1623,1673,1723,1773,1823,1873,1923,1973,2023,2073,2123,2173,2223,2273,2323,2373],
      "labelExpr": "(datum.value - 1173) % 300 === 0 ? '0.' + floor(datum.value / 60) + '.' + (datum.value % 60) : ''",
      "tickSize": {"condition": {"test": "(datum.value - 1173) % 300 === 0", "value": 16}, "value": 6},
      "tickColor": "black", "tickWidth": 1.2,
      "grid": true, "gridColor": "black", "gridWidth": 1.5,
      "gridOpacity": {"condition": {"test": "(datum.value - 1173) % 300 === 0", "value": 1}, "value": 0},
      "domainColor": "black", "domainWidth": 1.5,
      "labelFontSize": 21, "labelColor": "#333333", "labelPadding": 0, "labelFlush": false, "labelOverlap": false,
      "title": "hms", "titleFontSize": 20, "titleFontWeight": "normal", "titleColor": "#333333",
      "titleX": 148, "titleY": 26, "titleAlign": "center", "titleBaseline": "middle"
    }
  }
},
"layer": [
  {
    "transform": [{"filter": "datum.s === 'cursor'"}],
    "mark": {"type": "rule", "color": "#d6d6d6", "strokeWidth": 1.5},
    "encoding": {}
  },
  {
    "transform": [{"filter": "datum.s !== 'cursor'"}],
    "mark": {"type": "line", "clip": true},
    "encoding": {
      "y": {"field": "v", "type": "quantitative",
        "scale": {"domain": [40, 60], "nice": false, "zero": false},
        "axis": {
          "values": [40,42,44,46,48,50,52,54,56,58,60],
          "labelExpr": "datum.value % 10 === 0 ? datum.label : ''",
          "tickSize": 6, "tickColor": "black", "tickWidth": 1.2,
          "grid": true, "gridColor": "black", "gridWidth": 1.5,
          "gridOpacity": {"condition": {"test": "datum.value % 10 === 0", "value": 1}, "value": 0},
          "domainColor": "black", "domainWidth": 1.5,
          "labelFontSize": 21, "labelColor": "#333333", "labelPadding": 1, "labelOverlap": false, "labelFlush": false,
          "title": "dBA", "titleAngle": 0, "titleFontSize": 20, "titleFontWeight": "normal", "titleColor": "#333333",
          "titleX": -31, "titleY": 101, "titleAlign": "center", "titleBaseline": "middle"
        }
      },
      "strokeWidth": {"field": "s", "type": "nominal", "scale": {"domain": ["LAeq", "Running"], "range": [2.3, 1.6]}, "legend": null},
      "color": {"field": "s", "type": "nominal",
        "scale": {"domain": ["LAeq", "Running"], "range": ["#1414f0", "#ff1a1a"]},
        "legend": {
          "orient": "none", "legendX": 0, "legendY": -72, "title": null, "direction": "vertical",
          "symbolType": "M-10,0H10", "symbolSize": 231, "symbolStrokeWidth": 2,
          "symbolOffset": 75, "labelOffset": 93,
          "labelFontSize": 23.5, "labelLimit": 3000, "rowPadding": 4,
          "labelExpr": "pad(datum.label === 'LAeq' ? '447LD831.073 - LAeq' : '447LD831.073 - LAeq - Running Leq', 123, '\u00a0') + '\u200b'",
          "strokeColor": "black", "padding": 4, "fillColor": "white",
          "encode": {"labels": {"update": {"fill": {"signal": "datum.value === 'LAeq' ? '#2a2ad8' : '#f02828'"}}}}
        }
      }
    }
  }
]
}
